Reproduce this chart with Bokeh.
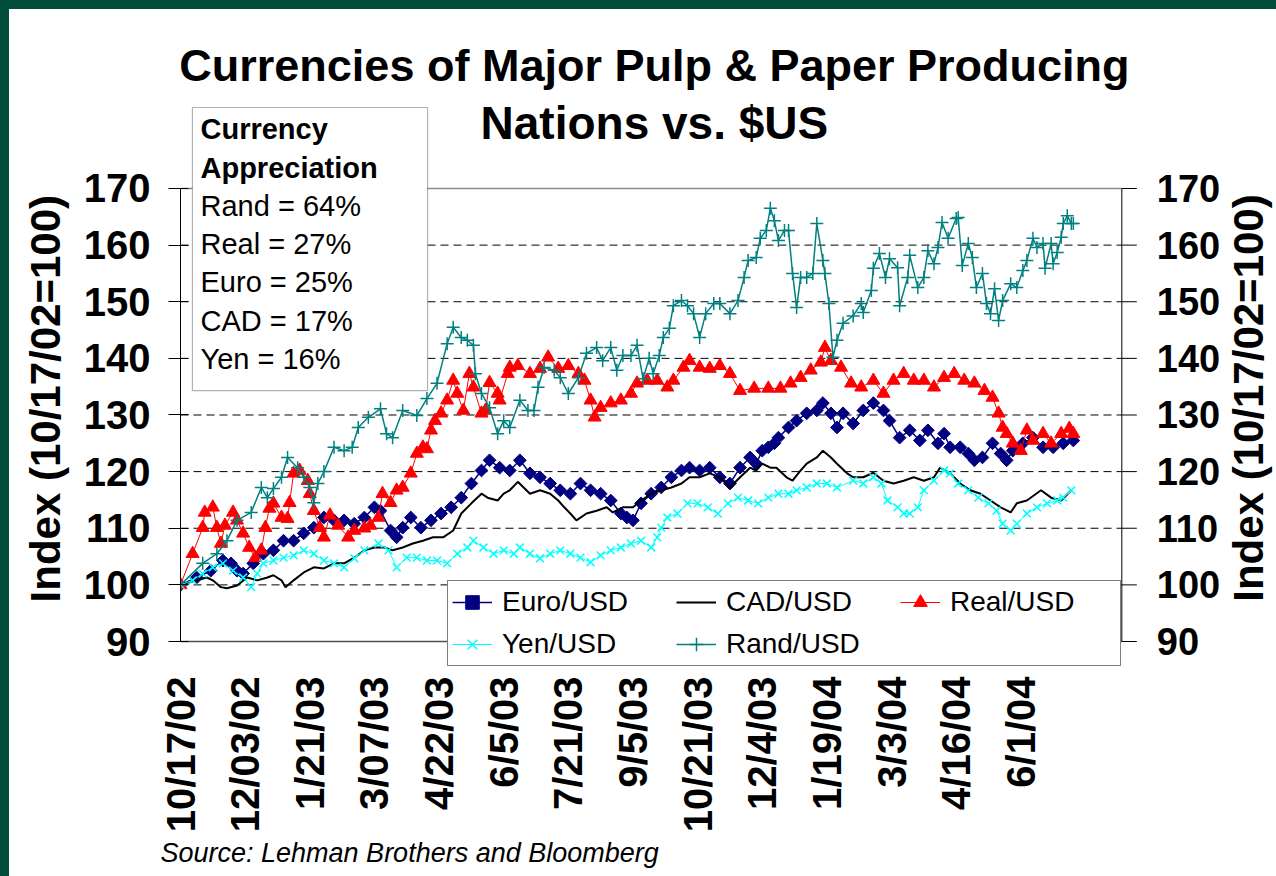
import math
from bokeh.plotting import figure
from bokeh.models import (Range1d, FixedTicker, Legend, LegendItem,
                          Label, BoxAnnotation, Title)
from bokeh.core.properties import value
from bokeh.embed import file_html
from bokeh.resources import INLINE

FONT = "Liberation Sans"

# ---------------- data (trading-day index since 10/17/02, index value) -------------
tick_idx = [0, 32, 64, 96, 128, 160, 192, 224, 256, 288, 320, 352, 384, 416]
tick_labels = ["10/17/02", "12/03/02", "1/21/03", "3/07/03", "4/22/03", "6/5/03",
               "7/21/03", "9/5/03", "10/21/03", "12/4/03", "1/19/04", "3/3/04",
               "4/16/04", "6/1/04"]
x_end = 466                                  # end of the category (date) axis
y_ticks = [90, 100, 110, 120, 130, 140, 150, 160, 170]
grid_ticks = [100, 110, 120, 130, 140, 150, 160]

euro_idx = [0, 8, 15, 21, 25, 28, 31, 36, 41, 46, 51, 56, 61, 66, 71, 76, 81, 86, 91, 96,
            99, 104, 107, 110, 114, 119, 124, 129, 134, 139, 144, 149, 153, 158, 163, 168,
            173, 178, 183, 188, 193, 198, 203, 208, 213, 218, 221, 224, 228, 233, 238, 243,
            248, 252, 257, 262, 267, 272, 277, 282, 285, 288, 291, 294, 296, 301, 305, 310,
            315, 318, 322, 325, 328, 333, 338, 343, 348, 351, 356, 361, 366, 370, 375, 378,
            381, 386, 390, 393, 397, 402, 406, 409, 412, 417, 422, 427, 432, 437, 442]
euro_val = [100, 101.3, 102.5, 104.3, 103.8, 102.5, 102, 103.8, 105.5, 106.1, 107.8, 107.8,
            109.1, 110.1, 111.9, 111.4, 111.4, 110.8, 111.9, 113.7, 113.1, 109.6, 108.4,
            110.1, 111.9, 110.1, 111.4, 112.6, 113.7, 115.4, 117.9, 120.2, 122, 120.7, 120.2,
            122, 119.7, 119, 117.9, 116.7, 116.1, 117.9, 116.7, 116.1, 114.9, 112.6, 111.9,
            111.4, 114.4, 116.1, 117.2, 119, 120.2, 120.7, 120.2, 120.7, 119, 117.9, 120.7,
            122.5, 121.4, 123.7, 124.3, 125, 126, 127.8, 129, 130.3, 130.8, 132.1, 130.3,
            127.8, 130.3, 128.5, 130.8, 132.1, 130.8, 129, 126, 127.3, 125.5, 127.3, 125,
            126.7, 124.3, 124.3, 123.2, 122, 122.5, 125, 123.2, 122, 123.7, 125, 126, 124.3,
            124.3, 125, 125.5]

cad_idx = [0, 8, 13, 16, 20, 23, 28, 33, 38, 43, 46, 50, 52, 56, 61, 66, 71, 76, 81, 86,
           91, 96, 101, 105, 110, 115, 120, 125, 130, 135, 139, 144, 149, 152, 157, 160, 163,
           167, 173, 178, 183, 187, 190, 193, 196, 201, 206, 211, 214, 219, 224, 228, 233,
           238, 243, 248, 252, 257, 262, 267, 272, 277, 282, 285, 288, 292, 295, 300, 303,
           307, 310, 315, 318, 322, 325, 330, 333, 338, 343, 348, 353, 358, 363, 368, 373,
           376, 381, 386, 391, 396, 401, 406, 411, 414, 419, 426, 431, 436, 441]
cad_val = [100, 100.8, 101.3, 100.8, 99.6, 99.4, 99.9, 101.3, 100.8, 101.3, 101.7, 100.8,
           99.6, 100.8, 102.2, 103.1, 102.9, 103.8, 103.8, 104.8, 106.1, 106.6, 106.6,
           106.1, 106.6, 107.3, 107.8, 108.4, 108.4, 109.6, 112.6, 114.4, 116.1, 115.4,
           114.9, 116.1, 116.7, 118.2, 116.1, 116.7, 116.1, 114.9, 113.7, 112.6, 111.4,
           112.6, 113.1, 113.7, 112.8, 113.7, 113.7, 114.9, 116.1, 116.7, 117.2, 117.9, 119,
           119, 119.7, 119, 117.2, 119, 120.7, 120.2, 121.4, 120.7, 120.7, 119, 118.4, 120.2,
           121.4, 122.5, 123.7, 122.5, 121.4, 119.7, 119, 119, 119.8, 118.4, 117.9, 118.4,
           119, 118.4, 119, 120.7, 119.7, 117.9, 116.7, 116.1, 114.9, 113.7, 112.8, 114.4,
           114.9, 116.7, 115.4, 114.9, 116.7]

real_idx = [0, 6, 11, 12, 16, 18, 20, 22, 26, 28, 31, 34, 37, 40, 42, 44, 46, 50, 53, 54,
            56, 59, 63, 64, 66, 69, 71, 74, 78, 83, 86, 91, 94, 98, 100, 104, 107, 110, 114,
            117, 120, 122, 124, 126, 129, 132, 135, 137, 140, 143, 145, 149, 151, 153, 157,
            158, 162, 163, 167, 173, 178, 182, 187, 192, 197, 200, 203, 205, 208, 213, 218,
            223, 226, 231, 236, 241, 244, 249, 252, 257, 262, 267, 272, 277, 284, 291, 297,
            302, 307, 312, 317, 319, 322, 327, 332, 337, 343, 348, 353, 358, 363, 368, 373,
            378, 383, 388, 393, 398, 402, 405, 407, 409, 412, 416, 419, 422, 427, 431, 436,
            440, 442]
real_val = [100, 105.5, 110.1, 112.8, 113.7, 110.1, 107.3, 110.5, 112.8, 111.4, 109.1,
            106.6, 104.8, 106.1, 110.1, 113.5, 114.4, 111.9, 111.7, 114.5, 119.7, 120.2,
            118.4, 116.1, 113.1, 110.1, 108.4, 112.3, 110.5, 108.4, 109.6, 110, 110.5, 111.9,
            116.1, 114.5, 116.7, 117.2, 119.7, 123.2, 124.3, 124, 127.3, 129, 130.3, 132.6,
            136.1, 133.8, 130.8, 137.3, 134.9, 130.3, 130.8, 135.7, 133.8, 132.6, 137.3,
            138.4, 138.7, 137.3, 138.2, 140.2, 138.2, 138.7, 137.3, 136.1, 132.6, 129.6,
            131.3, 132.1, 132.6, 133.8, 135.6, 136.1, 136.1, 134.9, 136.1, 138.4, 139.6,
            138.4, 138.2, 138.7, 137.3, 134.3, 134.7, 134.7, 134.7, 135.6, 136.6, 137.9,
            139.3, 141.9, 139.6, 138.4, 135.6, 134.9, 136.1, 133.8, 136.1, 137.3, 136.1,
            136.1, 134.9, 136.6, 137.3, 136.1, 135.6, 134.3, 133.1, 130.3, 127.8, 126.7, 125,
            123.7, 127.3, 125.5, 126.7, 125, 126.7, 127.6, 126.7]

yen_idx = [0, 6, 11, 16, 21, 26, 31, 35, 38, 41, 46, 51, 56, 61, 66, 71, 76, 81, 86, 91,
           98, 103, 107, 112, 117, 122, 127, 132, 137, 142, 145, 150, 155, 160, 165, 168,
           173, 178, 183, 188, 193, 198, 203, 208, 213, 218, 223, 228, 233, 236, 238, 241,
           246, 251, 256, 261, 266, 271, 276, 281, 286, 291, 296, 301, 305, 310, 315, 320,
           325, 333, 338, 343, 347, 350, 355, 358, 361, 365, 368, 373, 378, 381, 385, 390,
           395, 400, 404, 407, 411, 414, 419, 424, 429, 434, 437, 441]
yen_val = [100, 100.8, 102, 103.1, 103.8, 102.5, 101.3, 99.6, 102, 103.8, 104.3, 104.8,
           105.2, 106.1, 105.5, 104.3, 103.8, 103.1, 104.7, 106.1, 107.3, 106.1, 103.1,
           104.8, 104.8, 104.3, 104.3, 103.8, 105.5, 106.6, 107.8, 106.6, 105.5, 106.1,
           105.5, 106.6, 105.5, 104.7, 105.5, 106.1, 105.5, 104.8, 104, 105.2, 106.1, 106.6,
           107.3, 107.8, 106.6, 108.4, 110.1, 111.9, 112.6, 114.4, 114.4, 113.7, 112.6,
           114.4, 115.4, 114.9, 114.4, 115.4, 116.1, 116.1, 116.7, 117.2, 117.9, 117.9,
           117.2, 118.4, 117.9, 119, 117.9, 114.9, 113.7, 112.6, 112.6, 113.7, 116.7, 118.4,
           120.2, 119.7, 117.9, 116.7, 115.4, 114.4, 113.1, 110.8, 109.6, 110.8, 112.6,
           113.7, 114.4, 114.9, 115.4, 116.7]

rand_idx = [0, 11, 18, 23, 28, 35, 40, 43, 46, 50, 53, 58, 61, 64, 66, 68, 71, 76, 81, 85,
            88, 93, 99, 102, 105, 110, 117, 122, 127, 132, 135, 139, 142, 145, 146, 149, 153,
            157, 160, 163, 168, 172, 175, 177, 180, 185, 188, 192, 197, 201, 206, 209, 213,
            216, 219, 223, 226, 229, 232, 234, 237, 239, 242, 244, 248, 251, 254, 257, 260,
            264, 267, 272, 276, 279, 281, 285, 287, 290, 292, 294, 296, 299, 301, 303, 305,
            307, 310, 313, 315, 318, 319, 321, 323, 325, 328, 333, 337, 338, 342, 343, 346,
            349, 351, 355, 356, 360, 361, 365, 368, 370, 373, 375, 377, 380, 384, 385, 387,
            390, 392, 394, 397, 399, 401, 403, 405, 407, 411, 414, 417, 419, 422, 424, 427,
            428, 431, 432, 434, 436, 437, 439, 441, 442]
rand_val = [100, 103.8, 105.5, 107.8, 111.4, 112.8, 117.2, 115.4, 117, 119, 122.5, 120.7,
            119, 117.2, 114.5, 117.9, 120, 124.3, 123.7, 124.3, 127.8, 129.6, 131.1, 126.7,
            126, 130.8, 129.9, 132.9, 135.6, 142.6, 145.5, 143.7, 143.2, 142.3, 137.3, 133.8,
            131.3, 126.7, 129, 127.8, 132.6, 130.8, 130.8, 134.9, 138.4, 137.9, 136.6, 133.8,
            136.6, 140.9, 141.9, 139.6, 141.9, 137.9, 140.5, 140.5, 142.3, 136.4, 140, 137.3,
            140.5, 143.7, 145.3, 149.3, 150.2, 149.3, 147.9, 143.7, 147.9, 149.7, 149.7,
            147.9, 150.2, 154.3, 157.3, 157.8, 161.2, 162.6, 166.5, 164.3, 160.8, 162.6,
            162.6, 155, 149, 154.3, 154.3, 155, 163.8, 157.3, 155, 149.7, 140.2, 143.2, 146.2,
            147.5, 149.7, 148.1, 152, 155.9, 158.5, 154.3, 157.6, 156, 149.3, 154.3, 158.2,
            152.5, 154.3, 159, 156.7, 159.6, 164, 161.2, 164.7, 164.9, 156.4, 160.3, 157.8,
            152.5, 155, 149.7, 147.9, 152.3, 146.7, 150.2, 153.2, 152.5, 155.5, 157.3, 161.2,
            159.6, 160.3, 155.9, 160.3, 156.7, 158.7, 161.4, 163.8, 165.2, 163.8, 163.8]

appreciation = ["Rand = 64%", "Real = 27%", "Euro = 25%", "CAD = 17%", "Yen = 16%"]

AXIS_TITLE = "Index (10/17/02=100)"
# left: padded with no-break spaces so that it centres on the 90-170 scale rather than
# on the taller plot frame
LEFT_LABEL = AXIS_TITLE + "\u00a0" * 11

# ---------------- figure ----------------
# 2.02 px per trading day; the frame runs from the left axis to the page's right edge so
# that the mirrored right-hand scale and its title can be drawn in it.
PX_PER_DAY = 2.02
p = figure(frame_width=1096, frame_height=668,
           min_border_left=180, min_border_right=0, min_border_top=0,
           min_border_bottom=208,
           x_range=Range1d(0, 1096 / PX_PER_DAY), y_range=Range1d(85.232, 203.2),
           output_backend="svg", toolbar_location=None, title=None,
           background_fill_color=None, border_fill_color=None)
p.styles = {"background-color": "white",
            "box-shadow": "inset 9px 9px 0 0 #024c3c"}
p.outline_line_color = None

# left y axis
ly = p.yaxis[0]
ly.ticker = FixedTicker(ticks=y_ticks)
ly.bounds = (y_ticks[0], y_ticks[-1])
ly.axis_label = LEFT_LABEL
ly.axis_label_text_font = FONT
ly.axis_label_text_font_size = "42px"
ly.axis_label_text_font_style = "bold"
ly.axis_label_text_color = "black"
ly.axis_label_standoff = 12
ly.major_label_text_font = FONT
ly.major_label_text_font_size = "40px"
ly.major_label_text_font_style = "bold"
ly.major_label_text_color = "black"
ly.major_label_standoff = 18
ly.major_tick_out = 12
ly.major_tick_in = 8
ly.minor_tick_line_color = None
ly.axis_line_color = "black"
ly.major_tick_line_color = "black"

# x axis (labels only)
xa = p.xaxis[0]
xa.ticker = FixedTicker(ticks=tick_idx)
xa.major_label_overrides = {t: l for t, l in zip(tick_idx, tick_labels)}
xa.major_label_orientation = math.pi / 2
xa.major_label_text_font = FONT
xa.major_label_text_font_size = "40px"
xa.major_label_text_font_style = "bold"
xa.major_label_text_color = "black"
xa.major_label_standoff = 8
xa.major_tick_out = 0
xa.major_tick_in = 0
xa.major_tick_line_color = None
xa.minor_tick_line_color = None
xa.axis_line_color = None

p.add_layout(Title(text="Source: Lehman Brothers and Bloomberg", align="left", offset=-20,
                   text_font=FONT, text_font_size="27px", text_font_style="italic",
                   text_color="black", standoff=0), "below")

p.xgrid.grid_line_color = None
p.ygrid.grid_line_color = None

# plot area: dashed grid lines, top/bottom border
p.segment(x0=0, x1=x_end, y0=grid_ticks, y1=grid_ticks, line_color="black",
          line_dash="8 5", line_width=1)
p.segment(x0=0, x1=x_end, y0=y_ticks[-1], y1=y_ticks[-1], line_color="#8a8a8a",
          line_width=1.5)
p.segment(x0=0, x1=x_end, y0=y_ticks[0], y1=y_ticks[0], line_color="#505050",
          line_width=1.5)

# mirrored right-hand scale (same ticks as the left axis)
p.segment(x0=x_end, x1=x_end, y0=y_ticks[0], y1=y_ticks[-1], line_color="black",
          line_width=1)
p.segment(x0=x_end, x1=x_end + 15 / PX_PER_DAY, y0=y_ticks, y1=y_ticks,
          line_color="black", line_width=1)
p.text(x=x_end + 35 / PX_PER_DAY, y=y_ticks, text=[str(t) for t in y_ticks],
       text_font=value(FONT), text_font_size="38px", text_font_style="bold",
       text_color="black", text_align="left", text_baseline="middle")
p.add_layout(Label(x=x_end + 127 / PX_PER_DAY, y=(y_ticks[0] + y_ticks[-1]) / 2 + 3,
                   text=AXIS_TITLE, angle=math.pi / 2, text_font=FONT,
                   text_font_size="42px", text_font_style="bold", text_color="black",
                   text_align="center", text_baseline="middle"))

# ---------------- series ----------------
NAVY, RED, CYAN, TEAL = "#000080", "#ff0000", "#00ffff", "#008080"

e_l = p.line(euro_idx, euro_val, line_color=NAVY, line_width=1.5)
e_m = p.scatter(euro_idx, euro_val, marker="square", angle=math.pi / 4, size=9,
                fill_color=NAVY, line_color=NAVY)
c_l = p.line(cad_idx, cad_val, line_color="black", line_width=2)
r_l = p.line(real_idx, real_val, line_color=RED, line_width=1)
r_m = p.scatter(real_idx, real_val, marker="triangle", size=13,
                fill_color=RED, line_color=RED)
y_l = p.line(yen_idx, yen_val, line_color=CYAN, line_width=1)
y_m = p.scatter(yen_idx, yen_val, marker="x", size=11, line_color=CYAN, line_width=1.5)
d_l = p.line(rand_idx, rand_val, line_color=TEAL, line_width=1.5)
d_m = p.scatter(rand_idx, rand_val, marker="cross", size=13, line_color=TEAL,
                line_width=1.5)

legend = Legend(items=[
    LegendItem(label="Euro/USD", renderers=[e_l, e_m]),
    LegendItem(label="CAD/USD", renderers=[c_l]),
    LegendItem(label="Real/USD", renderers=[r_l, r_m]),
    LegendItem(label="Yen/USD", renderers=[y_l, y_m]),
    LegendItem(label="Rand/USD", renderers=[d_l, d_m]),
], location=(267, 2), orientation="horizontal", ncols=3,
    label_text_font=FONT, label_text_font_size="28px", label_text_color="black",
    glyph_width=40, glyph_height=34, label_height=34, label_width=166,
    label_standoff=10, spacing=8, padding=4, margin=0,
    border_line_color="black", border_line_width=1,
    background_fill_color="white", background_fill_alpha=1.0)
p.add_layout(legend)

# ---------------- annotations ----------------
p.add_layout(BoxAnnotation(left=5.9, right=122.3, bottom=134.3, top=184.3,
                           fill_color="white", fill_alpha=1.0,
                           line_color="black", line_width=1.2))

box_lines = [("Currency", "bold", 180.5), ("Appreciation", "bold", 173.6)]
box_lines += [(t, "normal", y) for t, y in zip(appreciation,
                                               [166.9, 160.15, 153.4, 146.6, 139.9])]
for txt, style, yy in box_lines:
    p.add_layout(Label(x=9.9, y=yy, text=txt, text_font=FONT, text_font_size="29px",
                       text_font_style=style, text_baseline="middle", text_align="left",
                       text_color="black"))

p.add_layout(Label(x=234.6, y=191.7, text="Currencies of Major Pulp & Paper Producing",
                   text_font=FONT, text_font_size="45px", text_font_style="bold",
                   text_align="center", text_baseline="middle", text_color="black"))
p.add_layout(Label(x=234.6, y=181.6, text="Nations vs. $US",
                   text_font=FONT, text_font_size="46px", text_font_style="bold",
                   text_align="center", text_baseline="middle", text_color="black"))

open("out.html", "w").write(file_html(p, INLINE))
